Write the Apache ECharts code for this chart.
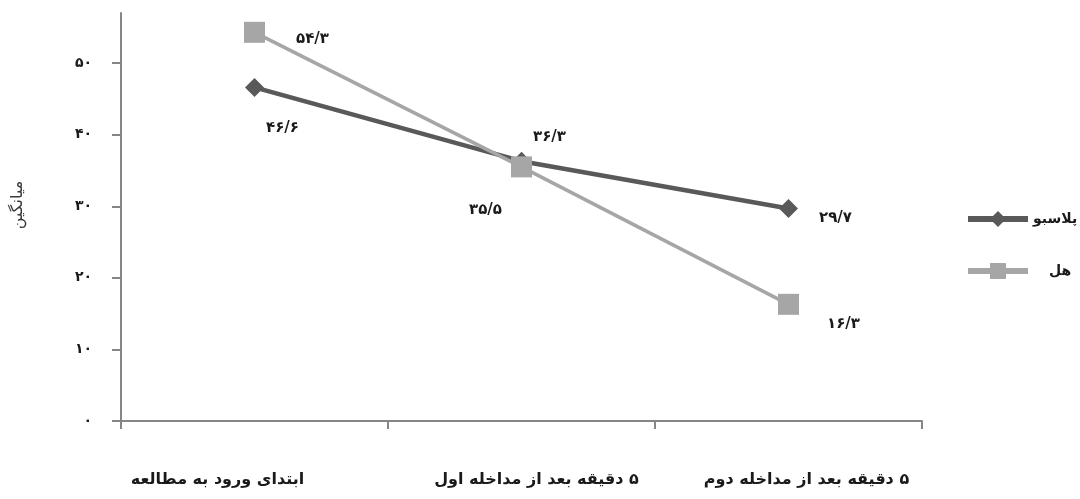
<!DOCTYPE html>
<html>
<head>
<meta charset="utf-8">
<script src="https://cdn.jsdelivr.net/npm/echarts@6/dist/echarts.min.js"></script>
<style>
  html, body { margin: 0; padding: 0; background: #ffffff; }
  #chart { width: 1080px; height: 499px; }
</style>
</head>
<body>
<div id="chart"></div>
<script>
// Time points of the study
const categories = ['ابتدای ورود به مطالعه', '۵ دقیقه بعد از مداخله اول', '۵ دقیقه بعد از مداخله دوم'];
// Mean scores per group
const placebo = [46.6, 36.3, 29.7];
const cardamom = [54.3, 35.5, 16.3];
// Value-axis tick positions
const yTicks = [0, 10, 20, 30, 40, 50];
const seriesNames = ['پلاسبو', 'هل'];

// Persian digits with "/" as the decimal separator
const faDigits = '۰۱۲۳۴۵۶۷۸۹';
function toFa(v) {
  return String(v).replace('.', '/').replace(/[0-9]/g, d => faDigits[+d]);
}
// Right-to-left embedding so a leading digit stays at the right end
function rtl(s) {
  return '\u202B' + s + '\u202C';
}

// Label offsets around each marker, kept apart from the values
const placeboLabelOffsets = [[28, 41], [28, -24], [47, 10]];
const cardamomLabelOffsets = [[58, 7], [-36, 43], [55, 20]];
// Horizontal nudges of the category labels
const catLabelPadding = [[0, 74, 0, 0], [0, 0, 0, 30], [0, 0, 0, 36]];

const FONT = 'DejaVu Sans';

function buildPoints(values, offsets) {
  return values.map((v, i) => ({
    value: v,
    label: { offset: offsets[i] }
  }));
}

const labelStyle = {
  show: true,
  position: 'inside',
  formatter: p => toFa(p.value),
  fontFamily: FONT,
  fontSize: 15,
  fontWeight: 'bold',
  color: '#1a1a1a'
};

const chart = echarts.init(document.getElementById('chart'));
chart.setOption({
  animation: false,
  backgroundColor: '#ffffff',
  grid: { left: 121, right: 158, top: 13, bottom: 78, containLabel: false },
  legend: {
    orient: 'vertical',
    left: 965,
    top: 211,
    padding: 0,
    itemWidth: 60,
    itemHeight: 20,
    itemGap: 36,
    textStyle: { fontFamily: FONT, fontSize: 14, fontWeight: 'bold', color: '#1a1a1a' },
    data: [
      { name: seriesNames[0], lineStyle: { width: 6 } },
      { name: seriesNames[1], lineStyle: { width: 6 }, textStyle: { padding: [0, 0, 0, 16] } }
    ]
  },
  xAxis: {
    type: 'category',
    data: categories.map((c, i) => ({ value: c, textStyle: { padding: catLabelPadding[i] } })),
    axisLine: { lineStyle: { color: '#868686', width: 2 } },
    axisTick: { show: true, length: 8, lineStyle: { color: '#868686', width: 2 } },
    axisLabel: {
      margin: 51,
      formatter: v => rtl(v),
      fontFamily: FONT,
      fontSize: 16,
      fontWeight: 'bold',
      color: '#1a1a1a',
      interval: 0
    },
    splitLine: { show: false }
  },
  yAxis: {
    type: 'value',
    min: 0,
    max: 57,
    interval: 10,
    name: 'میانگین',
    nameLocation: 'middle',
    nameRotate: 90,
    nameGap: 95,
    nameTextStyle: { fontFamily: FONT, fontSize: 16, color: '#3a3a3a', padding: [0, 0, 0, 24] },
    axisLine: { show: true, lineStyle: { color: '#868686', width: 2 } },
    axisTick: { show: true, length: 9, customValues: yTicks, lineStyle: { color: '#868686', width: 2 } },
    axisLabel: {
      customValues: yTicks,
      margin: 29,
      formatter: v => toFa(v),
      fontFamily: FONT,
      fontSize: 14,
      fontWeight: 'bold',
      color: '#1a1a1a'
    },
    splitLine: { show: false }
  },
  series: [
    {
      name: seriesNames[0],
      type: 'line',
      data: buildPoints(placebo, placeboLabelOffsets),
      symbol: 'diamond',
      symbolSize: 19,
      lineStyle: { color: '#595959', width: 4.5 },
      itemStyle: { color: '#595959' },
      label: labelStyle,
      z: 2
    },
    {
      name: seriesNames[1],
      type: 'line',
      data: buildPoints(cardamom, cardamomLabelOffsets),
      symbol: 'rect',
      symbolSize: 21,
      lineStyle: { color: '#a6a6a6', width: 3.5 },
      itemStyle: { color: '#a6a6a6' },
      label: labelStyle,
      z: 3
    }
  ]
});
</script>
</body>
</html>
